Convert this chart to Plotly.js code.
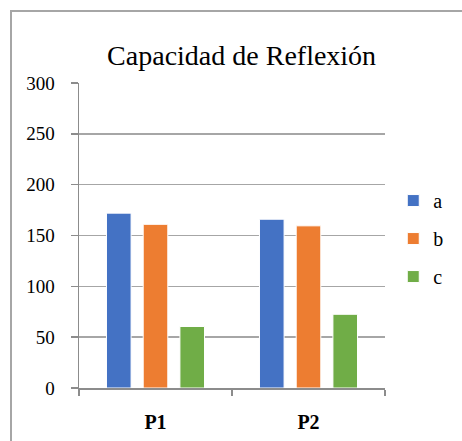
<!DOCTYPE html>
<html>
<head>
<meta charset="utf-8">
<script src="https://cdn.plot.ly/plotly-3.0.1.min.js"></script>
<style>
html,body{margin:0;padding:0;background:#fff;}
#wrap{position:relative;width:462px;height:441px;overflow:hidden;}
#chart{position:absolute;left:0;top:0;width:462px;height:441px;}
#frame{position:absolute;left:10px;top:10px;width:470px;height:450px;border-left:2px solid #a6a6a6;border-top:2px solid #a6a6a6;pointer-events:none;}
#chart text{font-family:'Liberation Serif', serif !important;}
</style>
</head>
<body>
<div id="wrap"><div id="chart"></div><div id="frame"></div></div>
<script>
var categories = ["P1", "P2"];
var seriesNames = ["a", "b", "c"];
var valuesA = [172, 166];
var valuesB = [161, 159.5];
var valuesC = [60.5, 72.5];
var yTicks = [0, 50, 100, 150, 200, 250, 300];
var colors = ["#4472C4", "#ED7D31", "#70AD47"];
var allValues = [valuesA, valuesB, valuesC];

var serif = "Liberation Serif";
var traces = allValues.map(function(v, i){
  return {
    type: "bar",
    x: categories,
    y: v,
    name: seriesNames[i],
    legendgroup: seriesNames[i],
    marker: {color: colors[i], line: {color: "#ffffff", width: 1}},
    hoverinfo: "x+y+name"
  };
});

var layout = {
  width: 462, height: 441,
  margin: {l: 79, r: 77, t: 83, b: 53, autoexpand: false},
  paper_bgcolor: "#ffffff",
  plot_bgcolor: "#ffffff",
  barmode: "group",
  bargap: 0.28,
  bargroupgap: 0.33,
  showlegend: true,
  font: {family: serif, color: "#000000", size: 18},
  title: {
    text: "Capacidad de Reflexión",
    font: {family: serif, size: 28, color: "#000000"},
    x: 0.523, xanchor: "center", xref: "container",
    y: 0.875, yanchor: "middle", yref: "container"
  },
  xaxis: {
    type: "category",
    tickson: "boundaries",
    ticks: "outside",
    ticklen: 6,
    tickcolor: "#8c8c8c",
    tickwidth: 1.5,
    showline: true,
    linecolor: "#8c8c8c",
    linewidth: 1.5,
    showgrid: false,
    tickfont: {family: serif, size: 20, color: "#000000", weight: 700},
    ticklabelstandoff: 15
  },
  yaxis: {
    range: [0, 300],
    tickvals: yTicks,
    ticktext: yTicks.map(String),
    ticks: "outside",
    ticklen: 7,
    tickcolor: "#8c8c8c",
    tickwidth: 1.5,
    showline: true,
    linecolor: "#8c8c8c",
    linewidth: 1.5,
    showgrid: true,
    gridcolor: "#a6a6a6",
    gridwidth: 1.5,
    zeroline: false,
    tickfont: {family: serif, size: 19, color: "#000000"},
    ticklabelstandoff: 12
  },
  legend: {
    x: 1.027, xanchor: "left",
    y: 0.49, yanchor: "middle",
    font: {family: serif, size: 20, color: "#000000"},
    tracegroupgap: 9,
    bgcolor: "rgba(0,0,0,0)"
  }
};

Plotly.newPlot("chart", traces, layout, {displayModeBar: false, staticPlot: true});
</script>
</body>
</html>
